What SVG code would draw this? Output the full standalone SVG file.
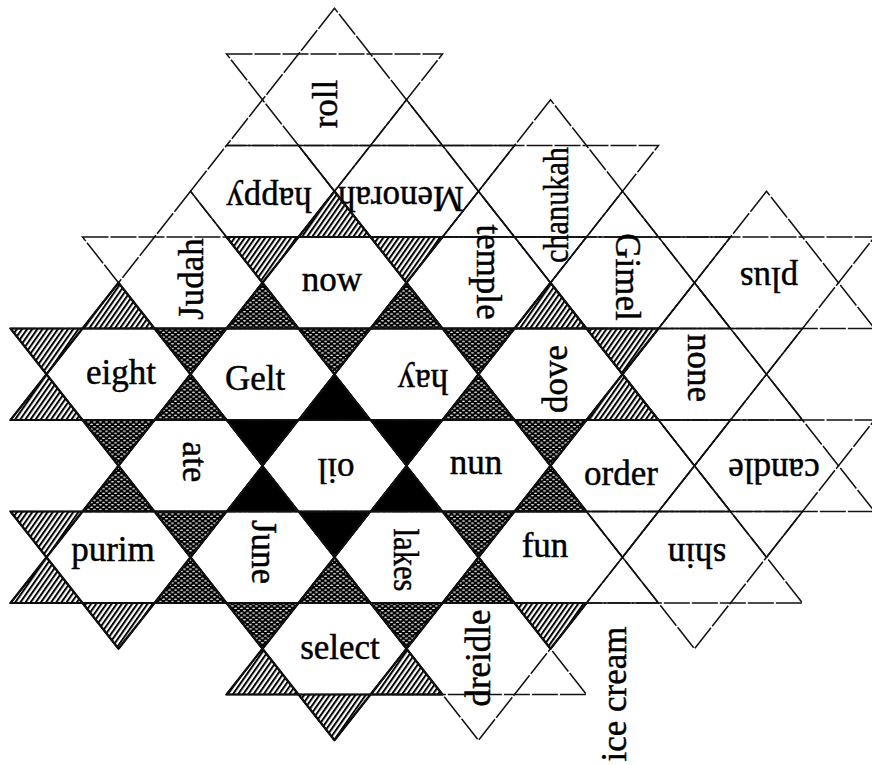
<svg xmlns="http://www.w3.org/2000/svg" width="872" height="765" viewBox="0 0 872 765">
<defs>
<pattern id="hatch" patternUnits="userSpaceOnUse" width="4.2" height="4.2" patternTransform="rotate(35)">
<rect width="4.2" height="4.2" fill="#fff"/>
<rect width="2" height="4.2" fill="#000"/>
</pattern>
<pattern id="dots" patternUnits="userSpaceOnUse" width="6" height="4.6">
<rect width="6" height="4.6" fill="#000"/>
<ellipse cx="1.5" cy="1.15" rx="1.6" ry="0.75" fill="#fff"/>
<ellipse cx="4.5" cy="3.45" rx="1.6" ry="0.75" fill="#fff"/>
</pattern>
<style>
.tri{fill:none;stroke:#111;stroke-width:1.5;stroke-linejoin:miter;stroke-dasharray:26 2}
.hx{fill:none;stroke:#111;stroke-width:1.5;stroke-dasharray:26 2}
.h{fill:url(#hatch);stroke:#000;stroke-width:2.2;stroke-linejoin:round}
.d{fill:url(#dots);stroke:#000;stroke-width:2.2;stroke-linejoin:round}
.b{fill:#000;stroke:#000;stroke-width:1.5;stroke-linejoin:round}
text{font-family:"Liberation Serif","Times New Roman",serif;font-size:35px;fill:#000;stroke:#000;stroke-width:0.45;text-anchor:middle}
</style>
</defs>
<rect width="872" height="765" fill="#fff"/>

<g id="shading">
<g id="hatched">
<polygon class="h" points="334.5,191.25 298.5,237 370.5,237"/>
<polygon class="h" points="226.5,237 298.5,237 262.5,282.75"/>
<polygon class="h" points="370.5,237 442.5,237 406.5,282.75"/>
<polygon class="h" points="118.5,282.75 82.5,328.5 154.5,328.5"/>
<polygon class="h" points="550.5,282.75 514.5,328.5 586.5,328.5"/>
<polygon class="h" points="10.5,328.5 82.5,328.5 46.5,374.25"/>
<polygon class="h" points="46.5,374.25 10.5,420 82.5,420"/>
<polygon class="h" points="586.5,328.5 658.5,328.5 622.5,374.25"/>
<polygon class="h" points="622.5,374.25 586.5,420 658.5,420"/>
<polygon class="h" points="10.5,511.5 82.5,511.5 46.5,557.25"/>
<polygon class="h" points="46.5,557.25 10.5,603 82.5,603"/>
<polygon class="h" points="82.5,603 154.5,603 118.5,648.75"/>
<polygon class="h" points="262.5,648.75 226.5,694.5 298.5,694.5"/>
<polygon class="h" points="406.5,648.75 370.5,694.5 442.5,694.5"/>
<polygon class="h" points="514.5,603 586.5,603 550.5,648.75"/>
<polygon class="h" points="298.5,694.5 370.5,694.5 334.5,740.25"/>
</g>
<g id="dotted">
<polygon class="d" points="262.5,282.75 226.5,328.5 298.5,328.5"/>
<polygon class="d" points="406.5,282.75 370.5,328.5 442.5,328.5"/>
<polygon class="d" points="154.5,328.5 226.5,328.5 190.5,374.25"/>
<polygon class="d" points="190.5,374.25 154.5,420 226.5,420"/>
<polygon class="d" points="298.5,328.5 370.5,328.5 334.5,374.25"/>
<polygon class="d" points="442.5,328.5 514.5,328.5 478.5,374.25"/>
<polygon class="d" points="478.5,374.25 442.5,420 514.5,420"/>
<polygon class="d" points="82.5,420 154.5,420 118.5,465.75"/>
<polygon class="d" points="118.5,465.75 82.5,511.5 154.5,511.5"/>
<polygon class="d" points="514.5,420 586.5,420 550.5,465.75"/>
<polygon class="d" points="550.5,465.75 514.5,511.5 586.5,511.5"/>
<polygon class="d" points="154.5,511.5 226.5,511.5 190.5,557.25"/>
<polygon class="d" points="190.5,557.25 154.5,603 226.5,603"/>
<polygon class="d" points="334.5,557.25 298.5,603 370.5,603"/>
<polygon class="d" points="442.5,511.5 514.5,511.5 478.5,557.25"/>
<polygon class="d" points="478.5,557.25 442.5,603 514.5,603"/>
<polygon class="d" points="226.5,603 298.5,603 262.5,648.75"/>
<polygon class="d" points="370.5,603 442.5,603 406.5,648.75"/>
</g>
<g id="black">
<polygon class="b" points="334.5,374.25 298.5,420 370.5,420"/>
<polygon class="b" points="226.5,420 298.5,420 262.5,465.75"/>
<polygon class="b" points="262.5,465.75 226.5,511.5 298.5,511.5"/>
<polygon class="b" points="370.5,420 442.5,420 406.5,465.75"/>
<polygon class="b" points="406.5,465.75 370.5,511.5 442.5,511.5"/>
<polygon class="b" points="298.5,511.5 370.5,511.5 334.5,557.25"/>
</g>
</g>

<g id="connectors"></g>

<g id="roll"><polygon class="tri" points="334.5,8.25 226.5,145.5 442.5,145.5"/><polygon class="tri" points="226.5,54 442.5,54 334.5,191.25"/><text transform="translate(325,104) rotate(-90)" y="12">roll</text></g>
<g id="happy"><polygon class="hx" points="190.5,191.25 226.5,145.5 298.5,145.5 334.5,191.25 298.5,237 226.5,237"/><text transform="translate(269,196) rotate(180)" y="8">happy</text></g>
<g id="menorah"><polygon class="tri" points="406.5,99.75 298.5,237 514.5,237"/><polygon class="tri" points="298.5,145.5 514.5,145.5 406.5,282.75"/><text transform="translate(401,199) rotate(180)" y="12" textLength="126" lengthAdjust="spacingAndGlyphs">Menorah</text></g>
<g id="chanukah"><polygon class="tri" points="550.5,99.75 442.5,237 658.5,237"/><polygon class="tri" points="442.5,145.5 658.5,145.5 550.5,282.75"/><text transform="translate(556,205) rotate(-90)" y="12" textLength="116" lengthAdjust="spacingAndGlyphs">chanukah</text></g>

<g id="judah"><polygon class="tri" points="190.5,191.25 82.5,328.5 298.5,328.5"/><polygon class="tri" points="82.5,237 298.5,237 190.5,374.25"/><text transform="translate(191,279) rotate(-90)" y="12">Judah</text></g>
<g id="now"><polygon class="tri" points="334.5,191.25 226.5,328.5 442.5,328.5"/><polygon class="tri" points="226.5,237 442.5,237 334.5,374.25"/><text transform="translate(332,283)" y="8">now</text></g>
<g id="temple"><polygon class="tri" points="478.5,191.25 370.5,328.5 586.5,328.5"/><polygon class="tri" points="370.5,237 586.5,237 478.5,374.25"/><text transform="translate(485,272) rotate(90)" y="8">temple</text></g>
<g id="gimel"><polygon class="tri" points="622.5,191.25 514.5,328.5 730.5,328.5"/><polygon class="tri" points="514.5,237 730.5,237 622.5,374.25"/><text transform="translate(628,277) rotate(90)" y="12">Gimel</text></g>
<g id="plus"><polygon class="tri" points="766.5,191.25 658.5,328.5 874.5,328.5"/><polygon class="tri" points="658.5,237 874.5,237 766.5,374.25"/><text transform="translate(769,276) rotate(180)" y="8">plus</text></g>

<g id="eight"><polygon class="tri" points="118.5,282.75 10.5,420 226.5,420"/><polygon class="tri" points="10.5,328.5 226.5,328.5 118.5,465.75"/><text transform="translate(121,376)" y="8">eight</text></g>
<g id="gelt"><polygon class="tri" points="262.5,282.75 154.5,420 370.5,420"/><polygon class="tri" points="154.5,328.5 370.5,328.5 262.5,465.75"/><text transform="translate(255,378)" y="12">Gelt</text></g>
<g id="hay"><polygon class="tri" points="406.5,282.75 298.5,420 514.5,420"/><polygon class="tri" points="298.5,328.5 514.5,328.5 406.5,465.75"/><text transform="translate(423,378) rotate(180)" y="8">hay</text></g>
<g id="dove"><polygon class="tri" points="550.5,282.75 442.5,420 658.5,420"/><polygon class="tri" points="442.5,328.5 658.5,328.5 550.5,465.75"/><text transform="translate(555,379) rotate(-90)" y="12">dove</text></g>
<g id="none"><polygon class="tri" points="694.5,282.75 586.5,420 802.5,420"/><polygon class="tri" points="586.5,328.5 802.5,328.5 694.5,465.75"/><text transform="translate(696,368) rotate(90)" y="8">none</text></g>

<g id="ate"><polygon class="tri" points="190.5,374.25 82.5,511.5 298.5,511.5"/><polygon class="tri" points="82.5,420 298.5,420 190.5,557.25"/><text transform="translate(193,462) rotate(90)" y="10">ate</text></g>
<g id="oil"><polygon class="tri" points="334.5,374.25 226.5,511.5 442.5,511.5"/><polygon class="tri" points="226.5,420 442.5,420 334.5,557.25"/><text transform="translate(336,471) rotate(180)" y="12">oil</text></g>
<g id="nun"><polygon class="tri" points="478.5,374.25 370.5,511.5 586.5,511.5"/><polygon class="tri" points="370.5,420 586.5,420 478.5,557.25"/><text transform="translate(476,466)" y="8">nun</text></g>
<g id="order"><polygon class="tri" points="622.5,374.25 514.5,511.5 730.5,511.5"/><polygon class="tri" points="514.5,420 730.5,420 622.5,557.25"/><text transform="translate(621,473)" y="12">order</text></g>
<g id="candle"><polygon class="tri" points="766.5,374.25 658.5,511.5 874.5,511.5"/><polygon class="tri" points="658.5,420 874.5,420 766.5,557.25"/><text transform="translate(774,471) rotate(180)" y="12">candle</text></g>

<g id="purim"><polygon class="tri" points="118.5,465.75 10.5,603 226.5,603"/><polygon class="tri" points="10.5,511.5 226.5,511.5 118.5,648.75"/><text transform="translate(113,553)" y="8">purim</text></g>
<g id="june"><polygon class="tri" points="262.5,465.75 154.5,603 370.5,603"/><polygon class="tri" points="154.5,511.5 370.5,511.5 262.5,648.75"/><text transform="translate(264,552) rotate(90)" y="12">June</text></g>
<g id="lakes"><polygon class="tri" points="406.5,465.75 298.5,603 514.5,603"/><polygon class="tri" points="298.5,511.5 514.5,511.5 406.5,648.75"/><text transform="translate(406,560) rotate(90)" y="12" textLength="63" lengthAdjust="spacingAndGlyphs">lakes</text></g>
<g id="fun"><polygon class="tri" points="550.5,465.75 442.5,603 658.5,603"/><polygon class="tri" points="442.5,511.5 658.5,511.5 550.5,648.75"/><text transform="translate(545,545)" y="12">fun</text></g>
<g id="shin"><polygon class="tri" points="694.5,465.75 586.5,603 802.5,603"/><polygon class="tri" points="586.5,511.5 802.5,511.5 694.5,648.75"/><text transform="translate(697,556) rotate(180)" y="12">shin</text></g>

<g id="select"><polygon class="tri" points="334.5,557.25 226.5,694.5 442.5,694.5"/><polygon class="tri" points="226.5,603 442.5,603 334.5,740.25"/><text transform="translate(340,647)" y="12">select</text></g>
<g id="dreidle"><polygon class="tri" points="478.5,557.25 370.5,694.5 586.5,694.5"/><polygon class="tri" points="370.5,603 586.5,603 478.5,740.25"/><text transform="translate(478,658) rotate(-90)" y="12">dreidle</text></g>
<g id="icecream"><text transform="translate(614,694) rotate(-90)" y="12">ice cream</text></g>
</svg>
